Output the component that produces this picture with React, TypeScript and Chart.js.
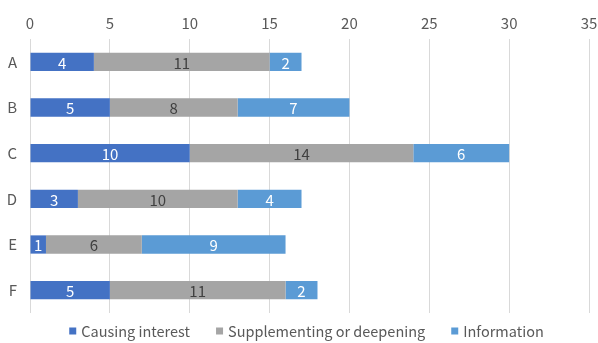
import React, { useEffect, useRef } from "react";
import { Chart, registerables } from "chart.js";

Chart.register(...registerables);

const categories = ["A", "B", "C", "D", "E", "F"];
const causingInterest = [4, 5, 10, 3, 1, 5];
const supplementing = [11, 8, 14, 10, 6, 11];
const information = [2, 7, 6, 4, 9, 2];
const seriesNames = ["Causing interest", "Supplementing or deepening", "Information"];
const seriesColors = ["#4472C4", "#A5A5A5", "#5B9BD5"];
const labelColors = ["#ffffff", "#404040", "#ffffff"];
const xTicksMax = 35;
const xTickStep = 5;

const FONT = "'Noto Sans CJK KR', 'Noto Sans', sans-serif";
const TEXT = "#595959";

// Writes each segment's value in the middle of its bar.
const valueLabels = {
  id: "valueLabels",
  afterDatasetsDraw(chart: any) {
    const ctx = chart.ctx;
    ctx.save();
    ctx.font = `15px ${FONT}`;
    ctx.textAlign = "center";
    ctx.textBaseline = "middle";
    chart.data.datasets.forEach((ds: any, di: number) => {
      const meta = chart.getDatasetMeta(di);
      meta.data.forEach((bar: any, i: number) => {
        const v = ds.data[i];
        if (!v) return;
        const p = bar.getProps(["x", "y", "base"], true);
        ctx.fillStyle = labelColors[di];
        ctx.fillText(String(v), (p.x + p.base) / 2, p.y + 1);
      });
    });
    ctx.restore();
  },
};

// Row of square swatches and series names under the plot.
const bottomLegend = {
  id: "bottomLegend",
  afterDraw(chart: any) {
    const ctx = chart.ctx;
    const box = 7;
    const gap = 5;
    const spacing = 26;
    ctx.save();
    ctx.font = `14.5px ${FONT}`;
    ctx.textBaseline = "middle";
    ctx.textAlign = "left";
    const widths = chart.data.datasets.map((ds: any) => ctx.measureText(ds.label).width);
    const total =
      widths.reduce((s: number, w: number) => s + box + gap + w, 0) + spacing * (widths.length - 1);
    const cx = (chart.chartArea.left + chart.chartArea.right) / 2 - 3;
    const y = chart.chartArea.bottom + 18;
    let x = cx - total / 2;
    chart.data.datasets.forEach((ds: any, i: number) => {
      ctx.fillStyle = ds.backgroundColor;
      ctx.fillRect(x, y - box / 2, box, box);
      ctx.fillStyle = TEXT;
      ctx.fillText(ds.label, x + box + gap, y);
      x += box + gap + widths[i] + spacing;
    });
    ctx.restore();
  },
};

export default function App() {
  const ref = useRef<HTMLCanvasElement>(null);

  useEffect(() => {
    if (!ref.current) return;
    const values = [causingInterest, supplementing, information];
    const chart = new Chart(ref.current, {
      type: "bar",
      data: {
        labels: categories,
        datasets: values.map((data, i) => ({
          label: seriesNames[i],
          data,
          backgroundColor: seriesColors[i],
        })),
      },
      options: {
        indexAxis: "y",
        animation: false,
        responsive: false,
        maintainAspectRatio: false,
        datasets: {
          bar: { categoryPercentage: 1, barPercentage: 0.4 },
        },
        layout: { padding: { left: 0, right: 0, top: 0, bottom: 30 } },
        scales: {
          x: {
            stacked: true,
            position: "top",
            min: 0,
            max: xTicksMax,
            ticks: {
              stepSize: xTickStep,
              padding: 7,
              color: TEXT,
              font: { family: FONT, size: 15 },
            },
            grid: { color: "#d9d9d9", drawTicks: false },
            border: { display: false },
            afterFit(scale: any) {
              scale.height = 39;
              scale.paddingLeft = 0;
              scale.paddingRight = 9;
            },
          },
          y: {
            stacked: true,
            ticks: {
              padding: 13,
              color: TEXT,
              font: { family: FONT, size: 15 },
            },
            grid: { display: false, drawTicks: false },
            border: { display: false },
            afterFit(scale: any) {
              scale.width = 30;
              scale.paddingTop = 0;
              scale.paddingBottom = 0;
            },
          },
        },
        plugins: {
          legend: { display: false },
          tooltip: { enabled: false },
        },
      },
      plugins: [valueLabels, bottomLegend],
    });
    return () => chart.destroy();
  }, []);

  return (
    <div style={{ position: "fixed", left: 0, top: 0, width: 598, height: 343, background: "#fff" }}>
      <canvas ref={ref} width={598} height={343} />
    </div>
  );
}
